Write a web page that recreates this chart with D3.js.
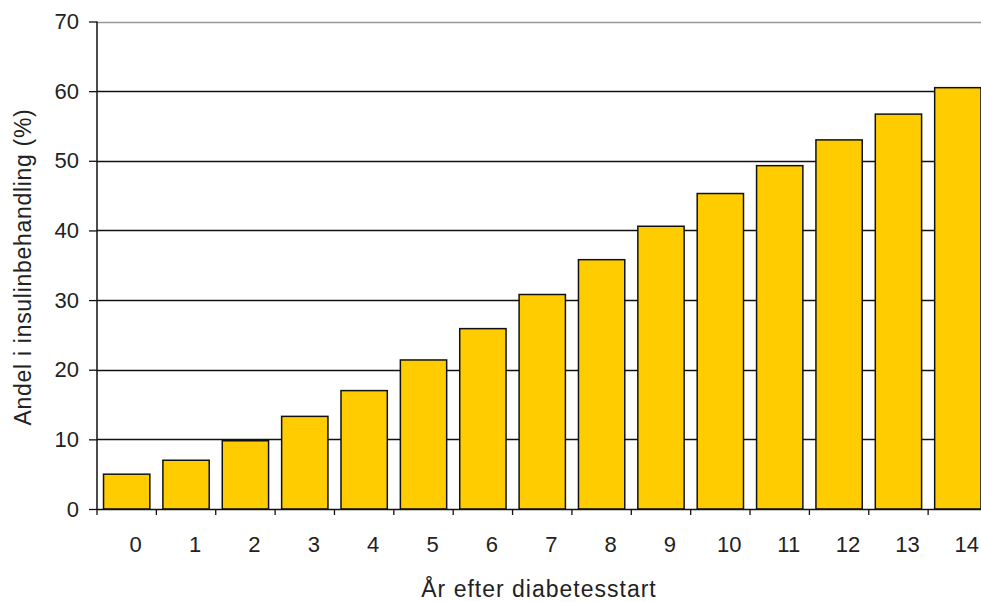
<!DOCTYPE html>
<html><head><meta charset="utf-8">
<script src="https://cdn.jsdelivr.net/npm/d3@7"></script>
<style>html,body{margin:0;padding:0;background:#fff;overflow:hidden}svg{display:block}</style>
</head><body>
<svg id="c" width="981" height="602"></svg>
<script>
const categories = ["0","1","2","3","4","5","6","7","8","9","10","11","12","13","14"];
const values = [5.0, 7.0, 9.8, 13.3, 17.0, 21.4, 25.9, 30.8, 35.8, 40.6, 45.3, 49.3, 53.0, 56.7, 60.5];
const yTicks = [0, 10, 20, 30, 40, 50, 60, 70];
const xTitle = "År efter diabetesstart";
const yTitle = "Andel i insulinbehandling (%)";

(function () {
const svg = d3.select("#c");
const font = "'Liberation Sans', Arial, sans-serif";
const pL = 97, pR = 987.5, pT = 21.5, pB = 509;

const x = d3.scaleBand().domain(categories).range([pL, pR]).paddingInner(0.22).paddingOuter(0.11);
const y = d3.scaleLinear().domain([0, 70]).range([pB, pT]);
const step = (pR - pL) / categories.length;

// gridlines
svg.append("g").selectAll("line").data(yTicks.filter(d => d > 0)).join("line")
  .attr("x1", pL).attr("x2", 981)
  .attr("y1", d => Math.round(y(d)) + 0.5).attr("y2", d => Math.round(y(d)) + 0.5)
  .attr("stroke", d => d === 70 ? "#999" : "#111").attr("stroke-width", d => d === 70 ? 1.5 : 1.3);

// bars
svg.append("g").selectAll("rect").data(values).join("rect")
  .attr("x", (d, i) => x(categories[i]))
  .attr("y", d => y(d))
  .attr("width", x.bandwidth())
  .attr("height", d => pB - y(d))
  .attr("fill", "#FFCC00").attr("stroke", "#111").attr("stroke-width", 1.5);

// y axis
const yAxis = d3.axisLeft(y).tickValues(yTicks).tickSize(8).tickPadding(10).tickFormat(d3.format("d"));
const gy = svg.append("g").attr("transform", `translate(${pL},0)`).call(yAxis);
gy.select(".domain").attr("stroke", "#111").attr("stroke-width", 1.5).attr("d", `M0,${pT}V${pB}`);
gy.selectAll(".tick line").attr("stroke", "#111").attr("stroke-width", 1.3);
gy.selectAll("text").attr("font-family", font).attr("font-size", 22).attr("fill", "#222");

// x axis: ticks at band boundaries
svg.append("line").attr("x1", pL).attr("x2", 981).attr("y1", pB + 0.5).attr("y2", pB + 0.5)
  .attr("stroke", "#111").attr("stroke-width", 1.5);
svg.append("g").selectAll("line").data(d3.range(categories.length)).join("line")
  .attr("x1", i => pL + i * step).attr("x2", i => pL + i * step)
  .attr("y1", pB).attr("y2", pB + 6).attr("stroke", "#111").attr("stroke-width", 1.3);
svg.append("g").selectAll("text").data(categories).join("text")
  .attr("x", d => x(d) + x.bandwidth() / 2 + 9)
  .attr("y", 552)
  .attr("text-anchor", "middle")
  .attr("font-family", font).attr("font-size", 22).attr("fill", "#222")
  .text(d => d);

// titles
svg.append("text").attr("x", 539).attr("y", 597).attr("text-anchor", "middle")
  .attr("font-family", font).attr("font-size", 23).attr("letter-spacing", 1).attr("fill", "#222").text(xTitle);
svg.append("text").attr("transform", "translate(31,267) rotate(-90)").attr("text-anchor", "middle")
  .attr("font-family", font).attr("font-size", 23).attr("letter-spacing", 0.7).attr("fill", "#222").text(yTitle);
})();
</script>
</body></html>
